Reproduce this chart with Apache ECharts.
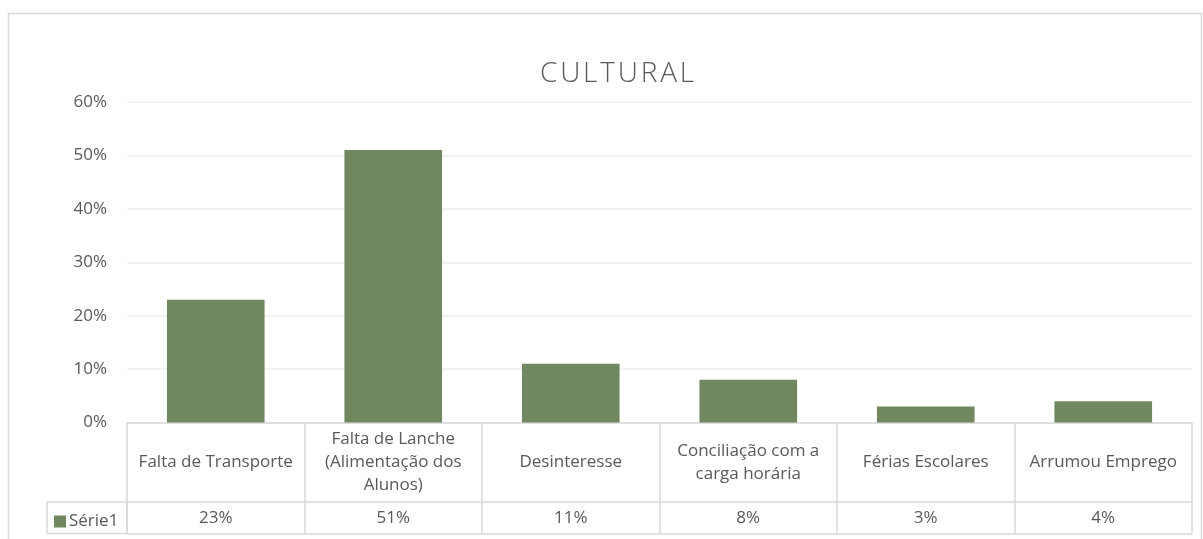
<!DOCTYPE html>
<html>
<head>
<meta charset="utf-8">
<script src="https://cdn.jsdelivr.net/npm/echarts@6/dist/echarts.min.js"></script>
<style>
  html, body { margin: 0; padding: 0; background: #ffffff; }
  #chart { width: 1203px; height: 539px; }
</style>
</head>
<body>
<div id="chart"></div>
<script>
// Motivos de evasão — categoria cultural
const categories = [
  'Falta de Transporte',
  'Falta de Lanche\n(Alimentação dos\nAlunos)',
  'Desinteresse',
  'Conciliação com a\ncarga horária',
  'Férias Escolares',
  'Arrumou Emprego'
];
const values = [0.23, 0.51, 0.11, 0.08, 0.03, 0.04];
const seriesName = 'Série1';
const yTicks = { min: 0, max: 0.6, interval: 0.1 };

const TEXT = '#595959';
const LINE = '#D9D9D9';
const BAR = '#71875F';
const FONT = 'Open Sans';

const pct = v => Math.round(v * 100) + '%';
// slightly tracked-out title letters
const spaced = s => s.split('').join('\u200A');

const chart = echarts.init(document.getElementById('chart'), null, { renderer: 'canvas' });

chart.setOption({
  animation: false,
  backgroundColor: '#ffffff',
  textStyle: { fontFamily: FONT, color: TEXT },
  title: {
    text: spaced('CULTURAL'),
    left: 535,
    top: 55,
    textStyle: { fontFamily: FONT, fontSize: 28, fontWeight: 300, color: TEXT }
  },
  legend: {
    data: [seriesName],
    left: 49,
    top: 508,
    icon: 'rect',
    itemWidth: 12,
    itemHeight: 12,
    itemGap: 4,
    selectedMode: false,
    textStyle: { fontFamily: FONT, fontSize: 17, color: TEXT, padding: [0, 0, 0, -2] }
  },
  grid: { left: 127, right: 11, top: 102, bottom: 116.5, containLabel: false },
  xAxis: [
    {
      type: 'category',
      data: categories,
      position: 'bottom',
      axisLine: { show: true, lineStyle: { color: LINE, width: 1.5 } },
      axisTick: { show: true, interval: 0, length: 111, lineStyle: { color: LINE, width: 1.5 } },
      axisLabel: {
        interval: 0,
        margin: 40,
        verticalAlign: 'middle',
        lineHeight: 23,
        fontFamily: FONT,
        fontSize: 17,
        color: TEXT
      },
      splitLine: { show: false }
    },
    {
      type: 'category',
      data: categories,
      position: 'bottom',
      offset: 79.5,
      axisLine: { show: true, lineStyle: { color: LINE, width: 1.5 } },
      axisTick: { show: false },
      axisLabel: {
        interval: 0,
        margin: 16,
        verticalAlign: 'middle',
        fontFamily: FONT,
        fontSize: 17,
        color: TEXT,
        formatter: (v, i) => pct(values[i])
      },
      splitLine: { show: false }
    },
    {
      type: 'category',
      data: categories,
      position: 'bottom',
      offset: 111,
      axisLine: { show: true, lineStyle: { color: LINE, width: 1.5 } },
      axisTick: { show: false },
      axisLabel: { show: false },
      splitLine: { show: false }
    }
  ],
  yAxis: {
    type: 'value',
    min: yTicks.min,
    max: yTicks.max,
    interval: yTicks.interval,
    axisLine: { show: false },
    axisTick: { show: false },
    axisLabel: {
      margin: 20,
      fontFamily: FONT,
      fontSize: 17,
      color: TEXT,
      formatter: v => pct(v)
    },
    splitLine: { show: true, lineStyle: { color: '#EFEFEF', width: 1.5 } }
  },
  series: [
    {
      name: seriesName,
      type: 'bar',
      xAxisIndex: 0,
      data: values,
      barWidth: '55%',
      itemStyle: { color: BAR }
    }
  ],
  graphic: [
    // chart area frame
    {
      type: 'rect',
      shape: { x: 8.5, y: 13.5, width: 1193, height: 540 },
      style: { fill: null, stroke: LINE, lineWidth: 1.5 },
      silent: true,
      z: -1
    },
    // legend key cell of the data table
    {
      type: 'rect',
      shape: { x: 47, y: 502, width: 80, height: 31.5 },
      style: { fill: null, stroke: LINE, lineWidth: 1.5 },
      silent: true
    }
  ]
});
</script>
</body>
</html>
